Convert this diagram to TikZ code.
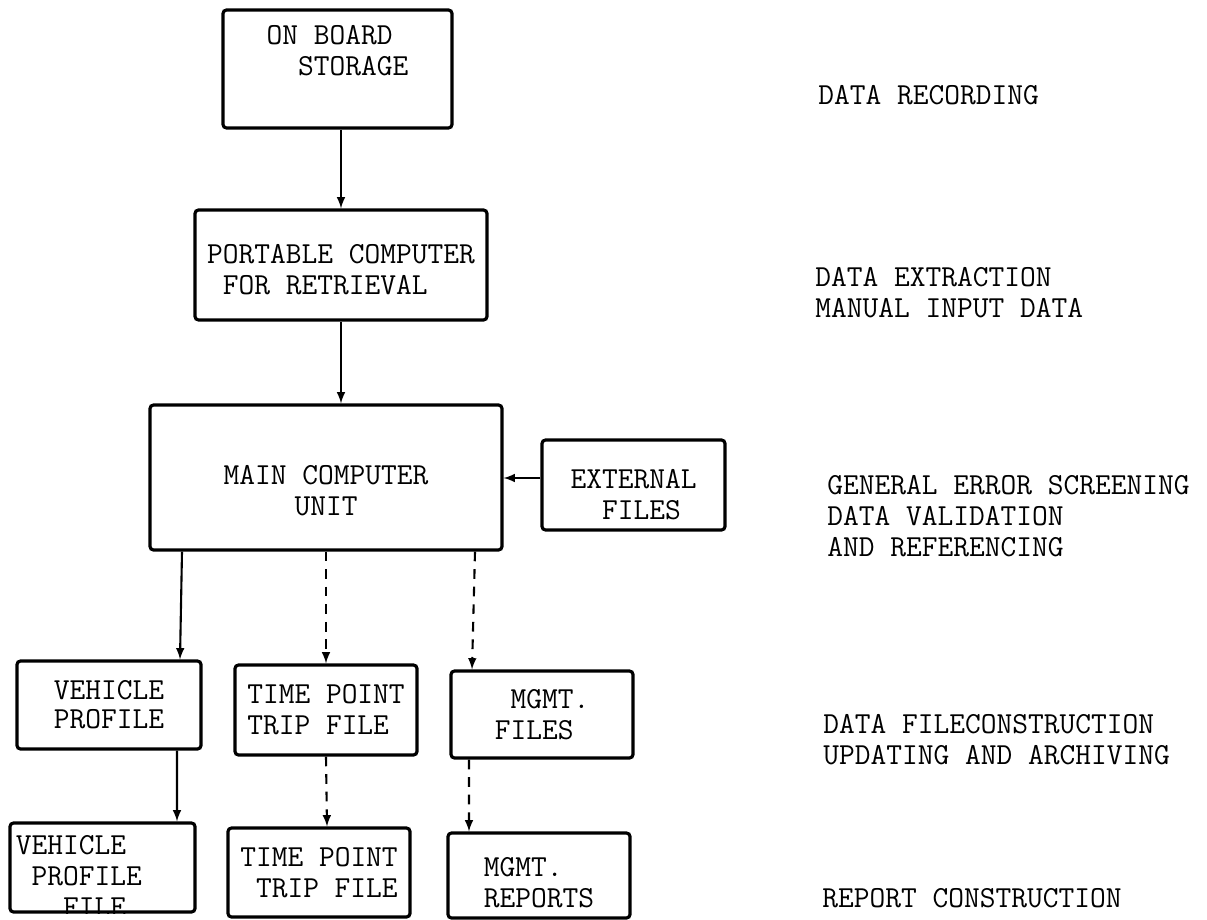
\documentclass[tikz,border=0pt]{standalone}
\usepackage{fontspec}
\usetikzlibrary{shapes.geometric, arrows}
\tikzstyle{box} = [rectangle, rounded corners=2pt,
line width=1.8pt,
inner sep=2pt,
align=left,
draw=black]
\tikzstyle{phase} = [anchor=west, align=left, inner sep=0pt]
\tikzstyle{arrow} = [line width=1.2pt,->,>=latex]
\tikzstyle{dashedarrow} = [arrow, dash pattern=on 5.5pt off 4.5pt]
% taller first line pushes the text block down in its box
\newcommand{\droptext}[1]{\rule{0pt}{#1}}

\begin{document}
\begin{tikzpicture}[every node/.append style={font=\ttfamily\fontsize{17.4}{17.6}\selectfont}, color=black, node distance=4cm]
        \useasboundingbox (0,0) rectangle (24.14,-18.4);

        % main chain of boxes
        \node (onboard) [box, minimum width=4.58cm, minimum height=2.36cm, text depth=0.75cm] at (6.75,-1.38) {ON BOARD\\~~STORAGE};
        \node (portable) [box, minimum width=5.84cm, minimum height=2.2cm, node distance=3.92cm, below of=onboard, xshift=0.07cm] {\droptext{0.57cm}PORTABLE COMPUTER\\~FOR RETRIEVAL};
        \node (main) [box, minimum width=7.04cm, minimum height=2.9cm, align=center, node distance=4.25cm, below of=portable, xshift=-0.3cm] {\droptext{0.91cm}MAIN COMPUTER\\UNIT};
        \node (external) [box, minimum width=3.66cm, minimum height=1.8cm, node distance=6.15cm, right of=main, yshift=-0.15cm] {\droptext{0.77cm}EXTERNAL\\~~FILES};

        % file row
        \node (tpoint) [box, minimum width=3.64cm, minimum height=1.8cm, node distance=4.65cm, below of=main] {TIME POINT\\TRIP FILE};
        \node (vprof) [box, minimum width=3.68cm, minimum height=1.76cm, align=center, node distance=4.34cm, left of=tpoint, yshift=0.1cm] {VEHICLE\\[-1pt]PROFILE};
        \node (mgmtf) [box, minimum width=3.64cm, minimum height=1.74cm, node distance=4.32cm, right of=tpoint, yshift=-0.09cm] {~MGMT.\\FILES};

        % report row
        \node (vfile) [box, minimum width=3.7cm, minimum height=1.78cm, node distance=3.25cm, below of=vprof, xshift=-0.13cm] {};
        \node (tfile) [box, minimum width=3.64cm, minimum height=1.78cm, node distance=3.25cm, below of=tpoint, xshift=-0.14cm] {TIME POINT\\~TRIP FILE};
        \node (mrep) [box, minimum width=3.64cm, minimum height=1.7cm, node distance=3.22cm, below of=mgmtf, xshift=-0.06cm] {\droptext{0.65cm}MGMT.\\REPORTS};
        \begin{scope}
            \clip (vfile.south west) rectangle (vfile.north east);
            \node (vfiletext) [anchor=north west, align=left, inner sep=0pt] at ([xshift=0.14cm, yshift=-0.28cm]vfile.north west) {VEHICLE\\~PROFILE\\~~~FILE};
        \end{scope}

        % phases on the right
        \node (recording) [phase] at (16.36,-1.9) {DATA RECORDING};
        \node (extraction) [phase] at (16.3,-5.85) {DATA EXTRACTION\\MANUAL INPUT DATA};
        \node (screening) [phase] at (16.54,-10.33) {GENERAL ERROR SCREENING\\DATA VALIDATION\\AND REFERENCING};
        \node (construction) [phase] at (16.46,-14.8) {DATA FILECONSTRUCTION\\UPDATING AND ARCHIVING};
        \node (reporting) [phase] at (16.44,-17.96) {REPORT CONSTRUCTION};

        \draw [arrow] (portable.north |- onboard.south) -- (portable.north);
        \draw [arrow] (portable.south) -- (portable.south |- main.north);
        \draw [arrow] ([yshift=0.14cm]external.west) -- ([yshift=0.14cm]external.west -| main.east);
        \draw [arrow] ([xshift=-2.88cm]main.south) -- ([xshift=1.42cm]vprof.north);
        \draw [dashedarrow] (main.south) -- (tpoint.north);
        \draw [dashedarrow] ([xshift=2.98cm]main.south) -- ([xshift=-1.4cm]mgmtf.north);
        \draw [arrow] ([xshift=1.36cm]vprof.south) -- ([xshift=1.49cm]vfile.north);
        \draw [dashedarrow] (tpoint.south) -- ([xshift=0.16cm]tfile.north);
        \draw [dashedarrow] ([xshift=-1.46cm]mgmtf.south) -- ([xshift=-1.4cm]mrep.north);
    \end{tikzpicture}
\end{document}
